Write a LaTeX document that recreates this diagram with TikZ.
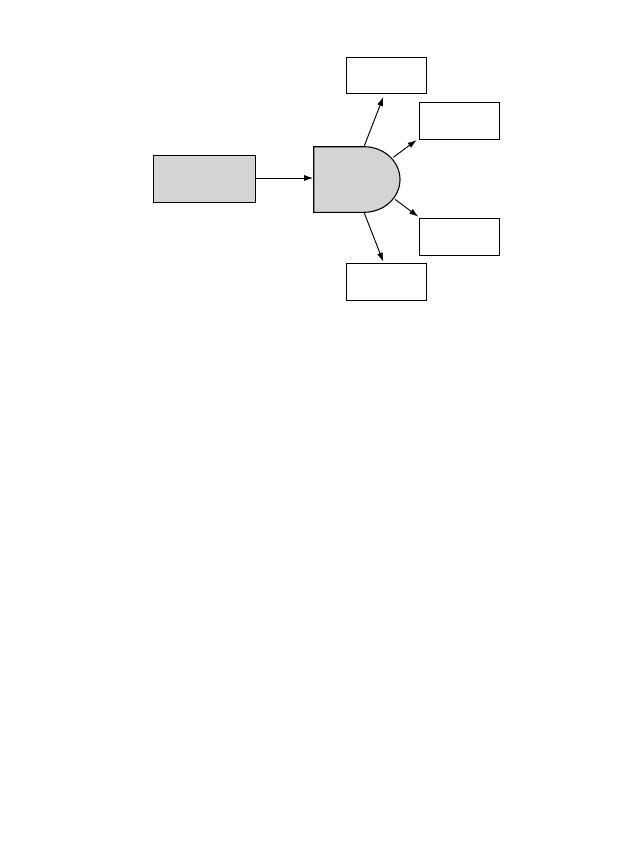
\documentclass[tikz,border=0pt]{standalone}
\usetikzlibrary{arrows.meta}
\definecolor{boxgrey}{HTML}{D3D4D6}
\begin{document}
\begin{tikzpicture}[x=1pt,y=-1pt,
  outbox/.style={draw=black,line width=1.1pt,fill=white,minimum width=80pt,minimum height=36.5pt,inner sep=0pt},
  inbox/.style={draw=black,line width=1.1pt,fill=boxgrey,minimum width=102pt,minimum height=47.7pt,inner sep=0pt},
  arr/.style={line width=0.95pt,-{Latex[length=9pt,width=6pt]}}]
\useasboundingbox (0,0) rectangle (644,851);
\node[inbox] (src) at (204.3,178.9) {};
\node[outbox] (t) at (386.7,75.5) {};
\node[outbox] (ur) at (459.3,121) {};
\node[outbox] (lr) at (459.3,237) {};
\node[outbox] (b) at (386.7,282) {};
% D shape
\draw[line width=1.1pt,fill=boxgrey] (313.7,146.7) -- (364,146.7)
  arc[start angle=90,end angle=-90,x radius=36,y radius=-32.8] -- (313.7,212.3) -- cycle;
\coordinate (din) at (313.2,178);
\coordinate (d1) at (364,146.7);
\coordinate (d2) at (393.3,157.3);
\coordinate (d3) at (395,199.3);
\coordinate (d4) at (364,212.3);
\coordinate (e1) at (383.3,96.9);
\coordinate (e2) at (416.7,140);
\coordinate (e3) at (418.3,216.7);
\coordinate (e4) at (383.3,261.7);
\draw[arr] (src.east |- din) -- (din);
\draw[arr] (d1) -- (e1);
\draw[arr] (d2) -- (e2);
\draw[arr] (d3) -- (e3);
\draw[arr] (d4) -- (e4);
\end{tikzpicture}
\end{document}
